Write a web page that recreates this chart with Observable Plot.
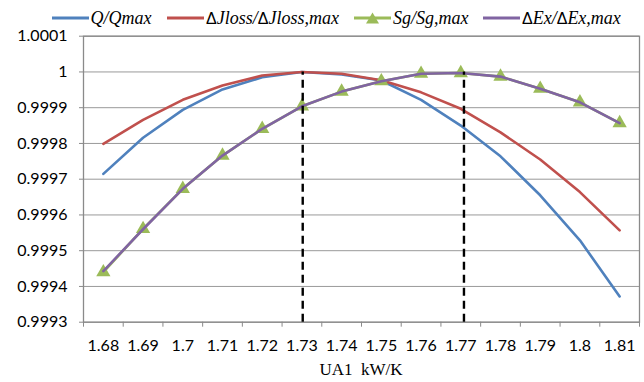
<!DOCTYPE html>
<html>
<head>
<meta charset="utf-8">
<script src="https://cdn.jsdelivr.net/npm/d3@7"></script>
<script src="https://cdn.jsdelivr.net/npm/@observablehq/plot@0.6"></script>
<style>
  html, body { margin: 0; padding: 0; background: #fff; }
  #wrap { width: 644px; height: 382px; position: relative; overflow: hidden; }
  #legend { position: absolute; left: 0; top: 0; width: 644px; height: 0; z-index: 2; font-family: "Liberation Serif", serif; font-style: italic; font-size: 18px; color: #000; }
  .item { position: absolute; top: 8px; height: 20px; display: flex; align-items: center; white-space: nowrap; }
  .item svg { display: block; margin-right: 2px; }
  .up { font-style: normal; font-family: "Liberation Sans", sans-serif; font-size: 16px; }
  #caption { height: 28px; line-height: 28px; padding-top: 2px; text-align: center; font-family: "Liberation Serif", serif; font-size: 17px; color: #000; padding-left: 78px; }
  svg.plot { display: block; }
</style>
</head>
<body>
<div id="wrap">
  <div id="legend"></div>
  <div id="chart"></div>
  <div id="caption">UA1&nbsp;&nbsp;kW/K</div>
</div>
<script>
// ---- data ----
const categories = [1.68, 1.69, 1.70, 1.71, 1.72, 1.73, 1.74, 1.75, 1.76, 1.77, 1.78, 1.79, 1.80, 1.81];
const xLabels = ["1.68", "1.69", "1.7", "1.71", "1.72", "1.73", "1.74", "1.75", "1.76", "1.77", "1.78", "1.79", "1.8", "1.81"];
const qRatio     = [0.999715, 0.999816, 0.999894, 0.999951, 0.999985, 1.000000, 0.999993, 0.999976, 0.999922, 0.999850, 0.999764, 0.999655, 0.999529, 0.999372];
const jlossRatio = [0.999799, 0.999866, 0.999922, 0.999962, 0.999990, 1.000000, 0.999995, 0.999977, 0.999943, 0.999897, 0.999831, 0.999755, 0.999664, 0.999557];
const sgRatio    = [0.999440, 0.999561, 0.999673, 0.999766, 0.999841, 0.999904, 0.999945, 0.999974, 0.999995, 0.999997, 0.999987, 0.999953, 0.999915, 0.999857];
const exRatio    = [0.999443, 0.999560, 0.999673, 0.999766, 0.999841, 0.999904, 0.999945, 0.999974, 0.999995, 0.999997, 0.999987, 0.999953, 0.999915, 0.999857];
const yTicks = [0.9993, 0.9994, 0.9995, 0.9996, 0.9997, 0.9998, 0.9999, 1.0000, 1.0001];
const yLabels = ["0.9993", "0.9994", "0.9995", "0.9996", "0.9997", "0.9998", "0.9999", "1", "1.0001"];
const optimaUA = [1.7302, 1.7708];

const seriesNames = ["Q/Qmax", "ΔJloss/ΔJloss,max", "Sg/Sg,max", "ΔEx/ΔEx,max"];
const colors = ["#4F81BD", "#C0504D", "#9BBB59", "#8064A2"];

const step = 0.01;
const xBounds = categories.map(c => c - step / 2).concat([categories[categories.length - 1] + step / 2]);

const toRows = vals => categories.map((c, i) => ({x: c, y: vals[i]}));
const qRows = toRows(qRatio), jRows = toRows(jlossRatio), sgRows = toRows(sgRatio), exRows = toRows(exRatio);

const chart = Plot.plot({
  width: 644,
  height: 354,
  marginTop: 35.7,
  marginLeft: 83,
  marginRight: 5,
  marginBottom: 32.3,
  x: {domain: [xBounds[0], xBounds[xBounds.length - 1]]},
  y: {domain: [yTicks[0], yTicks[yTicks.length - 1]]},
  style: {fontFamily: "Lato, sans-serif", fontSize: "16px", color: "#000", background: "#fff"},
  marks: [
    Plot.gridY(yTicks, {stroke: "#999", strokeOpacity: 1, strokeWidth: 1}),
    Plot.frame({stroke: "#8a8a8a", strokeWidth: 1.3}),
    Plot.axisY(yTicks, {tickSize: 4, tickPadding: 12, stroke: "#8a8a8a", fontSize: 16, tickFormat: (d, i) => yLabels[i], label: null}),
    Plot.axisX(xBounds, {tickSize: 5, tickFormat: () => "", stroke: "#8a8a8a", label: null}),
    Plot.axisX(categories, {tickSize: 0, tickPadding: 17, fontSize: 16, tickFormat: (d, i) => xLabels[i], label: null}),
    Plot.line(qRows, {x: "x", y: "y", stroke: colors[0], strokeWidth: 2.6}),
    Plot.line(jRows, {x: "x", y: "y", stroke: colors[1], strokeWidth: 2.6}),
    Plot.line(sgRows, {x: "x", y: "y", stroke: colors[2], strokeWidth: 2.6}),
    Plot.dot(sgRows, {x: "x", y: "y", symbol: "triangle", r: 5.3, fill: colors[2], stroke: "none"}),
    Plot.line(exRows, {x: "x", y: "y", stroke: colors[3], strokeWidth: 2.6}),
    Plot.ruleX(optimaUA, {y1: yTicks[0], y2: 1.0, stroke: "#000", strokeWidth: 2.4, strokeDasharray: "8,5"})
  ]
});
document.getElementById("chart").appendChild(chart);

// ---- legend ----
const legendX = [51.6, 167, 354, 483];
const legend = document.getElementById("legend");
seriesNames.forEach((name, i) => {
  const item = document.createElement("div");
  item.className = "item";
  item.style.left = legendX[i] + "px";
  const tri = i === 2 ? `<path d="M18.5 12.5 L12 23.5 L25 23.5 Z" fill="${colors[2]}"/>` : "";
  item.innerHTML = `<svg width="37" height="20" viewBox="0 8 37 20"><line x1="0" x2="37" y1="18" y2="18" stroke="${colors[i]}" stroke-width="2.8"/>${tri}</svg>` +
    `<span>${name.replace(/Δ/g, '<span class="up">Δ</span>')}</span>`;
  legend.appendChild(item);
});
</script>
</body>
</html>
